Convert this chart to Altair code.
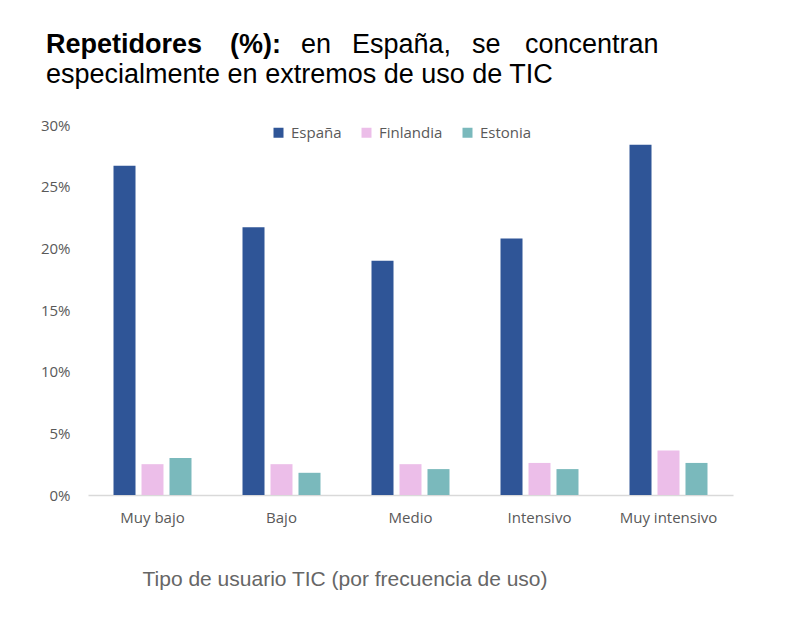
import altair as alt
import pandas as pd

categorias = ["Muy bajo", "Bajo", "Medio", "Intensivo", "Muy intensivo"]
paises = ["España", "Finlandia", "Estonia"]
espana = [26.7, 21.7, 19.0, 20.8, 28.4]
finlandia = [2.5, 2.5, 2.5, 2.6, 3.6]
estonia = [3.0, 1.8, 2.1, 2.1, 2.6]
colores = ["#2F5597", "#ECBEE9", "#7AB9BC"]
y_ticks = [0, 5, 10, 15, 20, 25, 30]

rows = []
for serie, vals in zip(paises, [espana, finlandia, estonia]):
    for c, v in zip(categorias, vals):
        rows.append({"categoria": c, "pais": serie, "valor": v})
df = pd.DataFrame(rows)

W, H = 645, 370
LABEL_FONT = "Open Sans"
TITLE_FONT = "Liberation Sans"

bars = alt.Chart(df).mark_bar().encode(
    x=alt.X("categoria:N", sort=categorias,
            scale=alt.Scale(paddingInner=0.349, paddingOuter=0.1745),
            axis=alt.Axis(title="Tipo de usuario TIC (por frecuencia de uso)",
                          labelAngle=0, ticks=False, labelPadding=15,
                          labelFont=LABEL_FONT, labelFontSize=15, labelColor="#595959",
                          domainColor="#D9D9D9", domainWidth=1.5,
                          titleFont=TITLE_FONT, titleFontSize=21, titleFontWeight="normal",
                          titleColor="#666666", titleX=54, titleY=90,
                          titleAlign="left", titleAnchor="start", titleBaseline="alphabetic")),
    xOffset=alt.XOffset("pais:N", sort=paises,
                        scale=alt.Scale(paddingInner=0.214, paddingOuter=0.107)),
    y=alt.Y("valor:Q", scale=alt.Scale(domain=[0, 30], nice=False),
            axis=alt.Axis(title=None, values=y_ticks, labelExpr="datum.value + '%'",
                          grid=False, domain=False, ticks=False, labelPadding=18,
                          labelFont=LABEL_FONT, labelFontSize=15, labelColor="#595959")),
    color=alt.Color("pais:N", sort=paises,
                    scale=alt.Scale(domain=paises, range=colores),
                    legend=alt.Legend(title=None, orient="none", direction="horizontal",
                                      legendX=183, legendY=0, symbolType="square",
                                      symbolSize=100, symbolStrokeWidth=0,
                                      labelOffset=5, columnPadding=17,
                                      labelFont=LABEL_FONT, labelFontSize=15,
                                      labelColor="#595959")),
)

# title words laid out to mimic the justified first line
title_line1 = [("Repetidores", "bold", -42), ("(%):", "bold", 142), ("en", "normal", 213),
               ("España,", "normal", 264), ("se", "normal", 384), ("concentran", "normal", 437)]
title_line2 = "especialmente en extremos de uso de TIC"

layers = [bars]
for word, weight, xpos in title_line1:
    layers.append(
        alt.Chart(pd.DataFrame({"t": [word]})).mark_text(
            align="left", baseline="alphabetic", font=TITLE_FONT, fontSize=27,
            fontWeight=weight, color="#000000"
        ).encode(text="t:N", x=alt.value(xpos), y=alt.value(-72))
    )
layers.append(
    alt.Chart(pd.DataFrame({"t": [title_line2]})).mark_text(
        align="left", baseline="alphabetic", font=TITLE_FONT, fontSize=27,
        fontWeight="normal", color="#000000"
    ).encode(text="t:N", x=alt.value(-42), y=alt.value(-42))
)

chart = alt.layer(*layers).properties(
    width=W, height=H,
    background="white",
    autosize=alt.AutoSizeParams(type="none"),
    padding={"left": 80, "top": 117, "right": 40, "bottom": 100},
).configure_view(strokeWidth=0, stroke="transparent")

chart.save("out.html", embed_options={"renderer": "svg", "actions": False})
